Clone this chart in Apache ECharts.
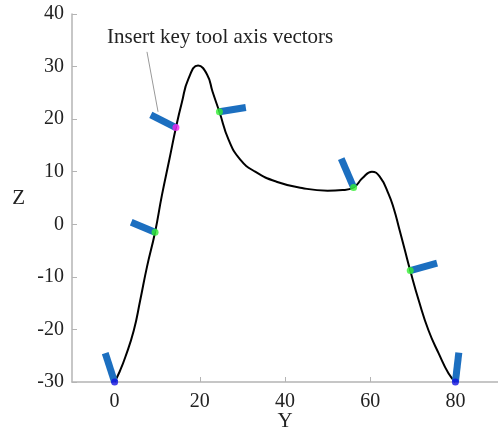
<!DOCTYPE html>
<html>
<head>
<meta charset="utf-8">
<script src="https://cdn.jsdelivr.net/npm/echarts@6/dist/echarts.min.js"></script>
<style>
  html, body { margin: 0; padding: 0; background: #fff; }
  #chart { width: 498px; height: 430px; }
</style>
</head>
<body>
<div id="chart"></div>
<script>
// path of the tool tip (Y, Z)
const pathY = [0, 1.2, 2.5, 4.5, 6, 7.6, 9.5, 11.1, 12.9, 14.4, 15.8, 17.3, 19.6, 21.7, 23, 24.6, 26.8, 29.5, 33, 38, 44, 50, 53.5, 56.1, 58.2, 60.4, 62.2, 64.3, 65.6, 66.8, 68.1, 69.4, 71.4, 73.7, 76.1, 78.4, 80];
const pathZ = [-30, -28, -25.3, -20.2, -14.5, -8.1, -1.5, 5.5, 12.5, 18.4, 23.2, 27.6, 30.2, 28.5, 25.2, 21.4, 16, 12.3, 10, 8.1, 6.9, 6.4, 6.5, 7.0, 8.8, 10.0, 9.1, 5.8, 2.8, -0.8, -4.8, -8.8, -14.5, -20.2, -24.6, -28.4, -30];

// key points on the path and the end of each tool axis vector
const keyY = [0, 9.5, 14.4, 24.6, 56.1, 69.4, 80];
const keyZ = [-30, -1.5, 18.4, 21.4, 7.0, -8.8, -30];
const tipY = [-2.2, 3.9, 8.5, 30.8, 53.2, 75.7, 80.8];
const tipZ = [-24.5, 0.4, 20.8, 22.2, 12.5, -7.4, -24.4];

// leader line of the note
const noteY = [7.6, 10.2];
const noteZ = [32.8, 21.4];
const noteText = 'Insert key tool axis vectors';

const xTicks = [0, 20, 40, 60, 80];

const dotColors = ['#1010e0', '#33ee33', '#ee22ee', '#33ee33', '#33ee33', '#33ee33', '#1010e0'];

const serif = '"Liberation Serif", "DejaVu Serif", serif';
const axisGray = '#b4b4b4';

const chart = echarts.init(document.getElementById('chart'));

const vectorSeries = keyY.map((y, i) => ({
  type: 'line',
  data: [[tipY[i], tipZ[i]], [y, keyZ[i]]],
  symbol: 'none',
  lineStyle: { color: '#1c6fc0', width: 7, cap: 'butt' },
  z: 3
}));

const option = {
  animation: false,
  grid: { left: 72, right: 0, top: 14, bottom: 48, outerBoundsMode: 'none' },
  xAxis: {
    type: 'value',
    min: -10,
    max: 90,
    interval: 10,
    name: 'Y',
    nameLocation: 'middle',
    nameGap: 29,
    nameMoveOverlap: false,
    nameTextStyle: { fontFamily: serif, fontSize: 21, color: '#222' },
    axisLine: { show: true, onZero: false, lineStyle: { color: axisGray, width: 1.5 } },
    axisTick: { show: true, inside: true, length: 5, customValues: xTicks, lineStyle: { color: axisGray } },
    axisLabel: { customValues: xTicks, fontFamily: serif, fontSize: 20, color: '#222', margin: 10 },
    splitLine: { show: false }
  },
  yAxis: {
    type: 'value',
    min: -30,
    max: 40,
    interval: 10,
    name: 'Z',
    nameLocation: 'middle',
    nameRotate: 0,
    nameGap: 47,
    nameMoveOverlap: false,
    nameTextStyle: { fontFamily: serif, fontSize: 21, color: '#222', verticalAlign: 'middle' },
    axisLine: { show: true, onZero: false, lineStyle: { color: axisGray, width: 1.5 } },
    axisTick: { show: true, inside: true, length: 5, lineStyle: { color: axisGray } },
    axisLabel: { fontFamily: serif, fontSize: 20, color: '#222', margin: 8 },
    splitLine: { show: false }
  },
  graphic: [{
    type: 'text',
    left: 107,
    top: 27,
    style: { text: noteText, font: '21px ' + serif, fill: '#222' }
  }],
  series: [
    {
      type: 'line',
      data: pathY.map((y, i) => [y, pathZ[i]]),
      smooth: 0.5,
      symbol: 'none',
      lineStyle: { color: '#000', width: 2 },
      z: 2
    },
    {
      type: 'line',
      data: noteY.map((y, i) => [y, noteZ[i]]),
      symbol: 'none',
      lineStyle: { color: '#999', width: 1 },
      z: 1
    },
    ...vectorSeries,
    {
      type: 'scatter',
      data: keyY.map((y, i) => ({ value: [y, keyZ[i]], itemStyle: { color: dotColors[i] } })),
      symbolSize: 7,
      z: 4
    }
  ]
};

chart.setOption(option);
</script>
</body>
</html>
